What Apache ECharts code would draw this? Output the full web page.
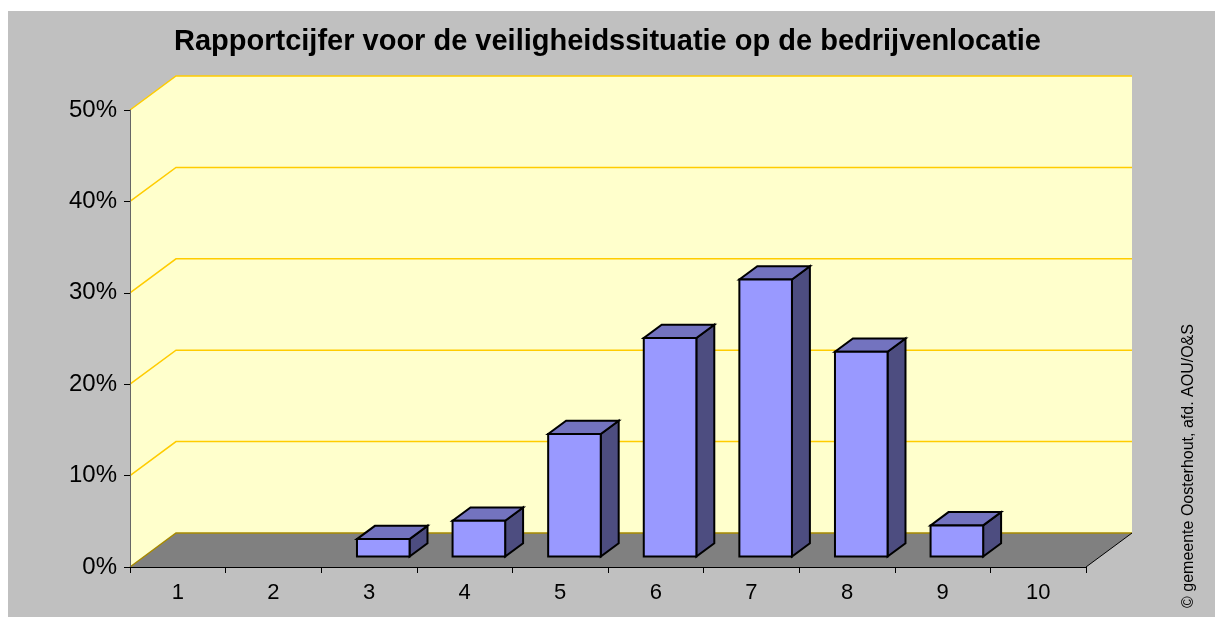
<!DOCTYPE html>
<html>
<head>
<meta charset="utf-8">
<script src="https://cdn.jsdelivr.net/npm/echarts@6/dist/echarts.min.js"></script>
<style>
  html, body { margin: 0; padding: 0; background: #ffffff; }
  #main { width: 1215px; height: 617px; }
</style>
</head>
<body>
<div id="main"></div>
<script>
var categories = ['1', '2', '3', '4', '5', '6', '7', '8', '9', '10'];
var percentages = [0, 0, 1.9, 3.9, 13.4, 23.9, 30.3, 22.4, 3.4, 0];
var yTicks = [0, 10, 20, 30, 40, 50];
var titleText = 'Rapportcijfer voor de veiligheidssituatie op de bedrijvenlocatie';
var sourceText = '\u00a9 gemeente Oosterhout, afd. AOU/O&S';

// perspective offset of the back wall (pixels)
var DX = 46, DY = -34;
// bars sit in the middle of the floor depth
var F0 = 0.31, F1 = 0.70;
var BAR_RATIO = 0.55;

var myChart = echarts.init(document.getElementById('main'));

function wallItem(params, api) {
    var cs = params.coordSys;
    var x0 = cs.x, x1 = cs.x + cs.width;
    var yb = api.coord([0, 0])[1];
    var yt = api.coord([0, yTicks[yTicks.length - 1]])[1];
    var children = [];
    // back wall
    children.push({
        type: 'polygon',
        shape: { points: [[x0 + DX, yt + DY], [x1 + DX, yt + DY], [x1 + DX, yb + DY], [x0 + DX, yb + DY]] },
        style: { fill: '#ffffcc' }
    });
    // side wall
    children.push({
        type: 'polygon',
        shape: { points: [[x0, yt], [x0 + DX, yt + DY], [x0 + DX, yb + DY], [x0, yb]] },
        style: { fill: '#ffffcc' }
    });
    // floor
    children.push({
        type: 'polygon',
        shape: { points: [[x0, yb], [x1, yb], [x1 + DX, yb + DY], [x0 + DX, yb + DY]] },
        style: { fill: '#808080' }
    });
    // gridlines
    yTicks.forEach(function (v) {
        var y = api.coord([0, v])[1];
        children.push({
            type: 'polyline',
            shape: { points: [[x0, y], [x0 + DX, y + DY], [x1 + DX, y + DY]] },
            style: { fill: null, stroke: v === 0 ? '#a88a00' : '#ffcc00', lineWidth: 1.5 }
        });
    });
    // right edge of the floor
    children.push({
        type: 'line',
        shape: { x1: x1, y1: yb, x2: x1 + DX, y2: yb + DY },
        style: { stroke: '#000000', lineWidth: 1 }
    });
    return { type: 'group', children: children };
}

function barItem(params, api) {
    var idx = api.value(0);
    var val = api.value(1);
    if (!val) return;
    var base = api.coord([idx, 0]);
    var top = api.coord([idx, val]);
    var bw = api.size([1, 0])[0] * BAR_RATIO;
    var L = base[0] - bw / 2 + DX * F0;
    var R = base[0] + bw / 2 + DX * F0;
    var B = base[1] + DY * F0;
    var T = top[1] + DY * F0;
    var bx = DX * (F1 - F0), by = DY * (F1 - F0);
    var line = { stroke: '#000000', lineWidth: 2, lineJoin: 'miter' };
    return {
        type: 'group',
        children: [
            {
                type: 'polygon',
                shape: { points: [[R, T], [R + bx, T + by], [R + bx, B + by], [R, B]] },
                style: Object.assign({ fill: '#4d4d80' }, line)
            },
            {
                type: 'polygon',
                shape: { points: [[L, T], [R, T], [R + bx, T + by], [L + bx, T + by]] },
                style: Object.assign({ fill: '#7373bf' }, line)
            },
            {
                type: 'rect',
                shape: { x: L, y: T, width: R - L, height: B - T },
                style: Object.assign({ fill: '#9999ff' }, line)
            }
        ]
    };
}

var barData = percentages.map(function (v, i) { return [i, v]; });

var option = {
    backgroundColor: '#ffffff',
    animation: false,
    title: {
        text: titleText,
        left: 'center',
        top: 22,
        textStyle: { fontFamily: 'Arial, Liberation Sans', fontSize: 29, fontWeight: 'bold', color: '#000000' }
    },
    graphic: [
        {
            type: 'rect', z: -10, silent: true,
            shape: { x: 8, y: 11, width: 1207, height: 606 },
            style: { fill: '#c0c0c0' }
        },
        {
            type: 'text',
            x: 1189, y: 466,
            rotation: Math.PI / 2,
            style: {
                text: sourceText,
                fontFamily: 'Arial, Liberation Sans',
                fontSize: 16,
                fill: '#000000',
                align: 'center',
                verticalAlign: 'middle'
            }
        }
    ],
    grid: {
        left: 130,
        right: 129,
        top: 110,
        bottom: 50
    },
    xAxis: {
        type: 'category',
        data: categories,
        boundaryGap: true,
        z: 10,
        axisLine: { lineStyle: { color: '#000000', width: 1 } },
        axisTick: { show: true, length: 6, lineStyle: { color: '#000000' } },
        axisLabel: { fontFamily: 'Arial, Liberation Sans', fontSize: 22, color: '#000000', margin: 15 },
        splitLine: { show: false }
    },
    yAxis: {
        type: 'value',
        min: 0,
        max: 50,
        interval: 10,
        z: 10,
        axisLine: { show: true, lineStyle: { color: '#666666', width: 1 } },
        axisTick: { show: true, length: 6, lineStyle: { color: '#000000' } },
        axisLabel: { formatter: '{value}%', fontFamily: 'Arial, Liberation Sans', fontSize: 24, color: '#000000', margin: 13 },
        splitLine: { show: false }
    },
    series: [
        {
            type: 'custom',
            renderItem: wallItem,
            data: [[0, 0]],
            z: 1,
            silent: true
        },
        {
            type: 'custom',
            renderItem: barItem,
            data: barData,
            z: 3,
            encode: { x: 0, y: 1 }
        }
    ]
};
myChart.setOption(option);
</script>
</body>
</html>
